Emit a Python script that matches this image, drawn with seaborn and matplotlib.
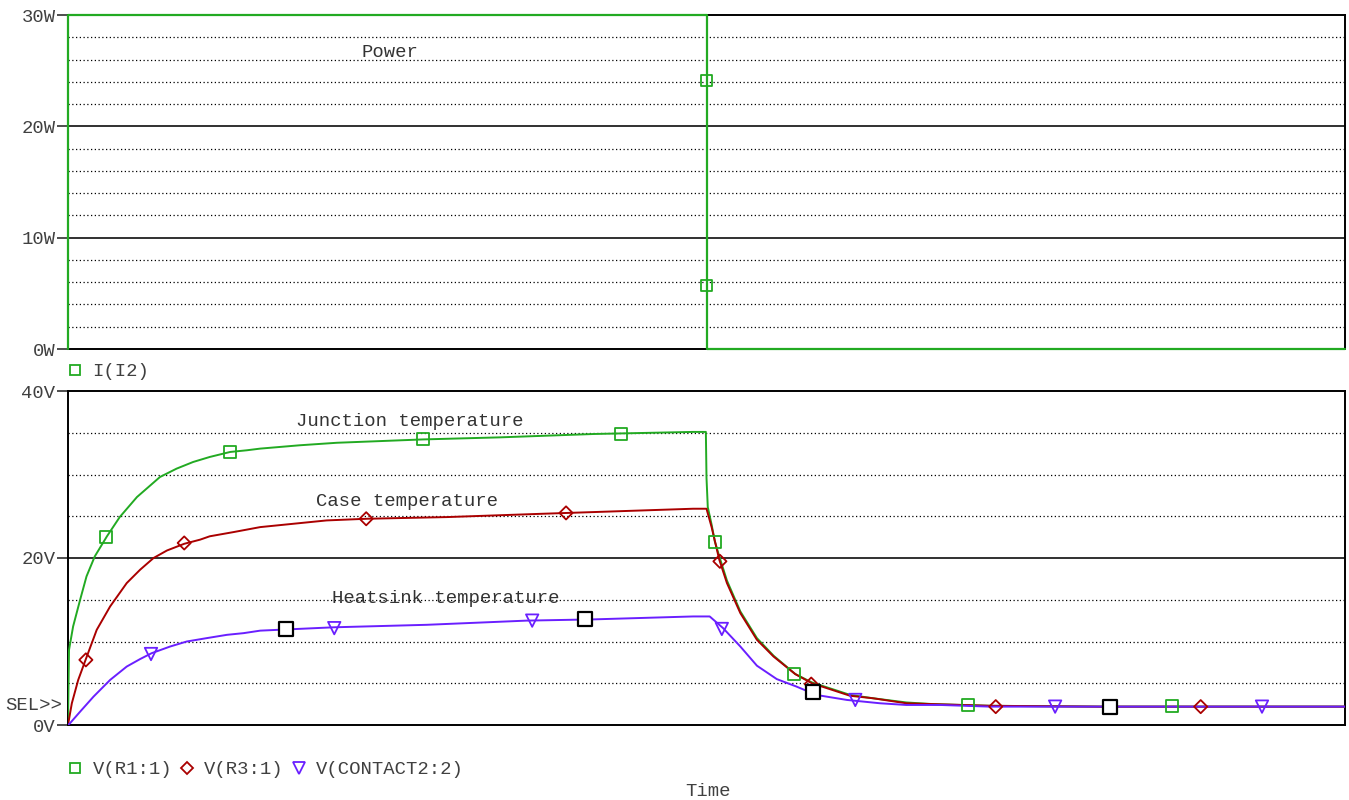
import numpy as np
import pandas as pd
import matplotlib
matplotlib.use("Agg")
import matplotlib.pyplot as plt
from matplotlib.lines import Line2D
import seaborn as sns

# ---------------- data (time in arbitrary units, 0..2) ----------------
power_t = [0.0, 0.0, 1.0, 1.0, 2.0]
power_w = [0.0, 30.0, 30.0, 0.0, 0.0]
power_mk_t = [1.0, 1.0]
power_mk_w = [24.1, 5.7]

junc_t = [0.0, 0.001, 0.0016, 0.008, 0.019, 0.029, 0.042, 0.061, 0.081, 0.108, 0.144,
          0.170, 0.196, 0.222, 0.254, 0.280, 0.301, 0.363, 0.421, 0.556, 0.677, 0.823,
          0.979, 0.999, 1.000, 1.002,
          1.008, 1.013, 1.020, 1.032, 1.053, 1.079, 1.105, 1.139, 1.165, 1.225, 1.261,
          1.313, 1.355, 1.444, 1.616, 2.0]
junc_v = [0.0, 6.0, 9.0, 11.8, 15.0, 17.8, 20.2, 22.6, 24.9, 27.3, 29.7,
          30.7, 31.5, 32.1, 32.7, 32.9, 33.1, 33.5, 33.8, 34.2, 34.45, 34.85,
          35.1, 35.1, 29.6, 26.1,
          24.0, 22.0, 20.2, 17.3, 13.6, 10.4, 8.3, 6.1, 5.1, 3.6, 3.2,
          2.7, 2.5, 2.3, 2.2, 2.2]

case_t = [0.0, 0.006, 0.016, 0.028, 0.045, 0.066, 0.092, 0.113, 0.134, 0.155, 0.182,
          0.207, 0.222, 0.259, 0.301,
          0.405, 0.468, 0.593, 0.744, 0.823, 0.979, 1.000, 1.008, 1.020, 1.032, 1.053,
          1.079, 1.105, 1.139, 1.165, 1.225, 1.261, 1.313, 1.355, 1.444, 1.616, 2.0]
case_v = [0.0, 2.6, 5.4, 7.9, 11.4, 14.2, 17.0, 18.6, 20.0, 20.9, 21.7,
          22.2, 22.6, 23.1, 23.7,
          24.5, 24.7, 24.9, 25.3, 25.5, 25.9, 25.9, 23.7, 19.8, 17.0, 13.4,
          10.2, 8.2, 6.1, 5.0, 3.5, 3.2, 2.6, 2.5, 2.3, 2.2, 2.2]

sink_t = [0.0, 0.003, 0.019, 0.040, 0.066, 0.079, 0.092, 0.113, 0.131, 0.160, 0.186,
          0.217, 0.249, 0.275, 0.301, 0.416,
          0.562, 0.718, 0.823, 0.979, 1.005, 1.026, 1.053, 1.079, 1.110, 1.141, 1.172,
          1.220, 1.272, 1.313, 1.366, 1.444, 2.0]
sink_v = [0.0, 0.2, 1.6, 3.4, 5.4, 6.2, 7.0, 7.9, 8.6, 9.4, 10.0,
          10.4, 10.8, 11.0, 11.3, 11.7,
          12.0, 12.5, 12.65, 13.0, 13.0, 11.6, 9.4, 7.1, 5.5, 4.6, 3.6,
          3.0, 2.6, 2.4, 2.4, 2.2, 2.2]

junc_mk_t = [0.060, 0.254, 0.556, 0.866, 1.013, 1.137, 1.410, 1.729]
junc_mk_v = [22.5, 32.7, 34.25, 34.85, 21.9, 6.1, 2.4, 2.3]
case_mk_t = [0.028, 0.182, 0.467, 0.780, 1.021, 1.164, 1.453, 1.774]
case_mk_v = [7.8, 21.8, 24.7, 25.4, 19.6, 4.9, 2.2, 2.2]
sink_mk_t = [0.130, 0.417, 0.727, 1.024, 1.233, 1.546, 1.870]
sink_mk_v = [8.5, 11.6, 12.5, 11.5, 3.0, 2.2, 2.2]
sel_mk_t = [0.341, 0.810, 1.167, 1.632]
sel_mk_v = [11.5, 12.7, 4.0, 2.2]

top_ticks = [0, 10, 20, 30]
top_ticklabels = ["0W", "10W", "20W", "30W"]
bot_ticks = [0, 20, 40]
bot_ticklabels = ["0V", "20V", "40V"]

GREEN = "#22aa22"
RED = "#aa0000"
BLUE = "#6a1fff"
TXT = "#404040"

# ---------------- style ----------------
sns.set_style("white")
plt.rcParams["font.family"] = ["Liberation Mono", "DejaVu Sans Mono"]
plt.rcParams["font.size"] = 13.6

fig = plt.figure(figsize=(13.49, 8.0), dpi=100)
ax1 = fig.add_axes([68/1349, 1-349/800, (1345-68)/1349, 334/800])
ax2 = fig.add_axes([68/1349, 1-725/800, (1345-68)/1349, 334/800])


def style_axes(ax, ymax, major, minor, ticks, labels):
    ax.set_xlim(0, 2.0)
    ax.set_ylim(0, ymax)
    for v in np.arange(minor, ymax, minor):
        if v % major == 0:
            ax.axhline(v, color="#303030", lw=1.4, zorder=1)
        else:
            ax.axhline(v, color="black", lw=0.9, ls=(0, (1, 2)), zorder=1)
    ax.set_yticks(ticks)
    ax.set_yticklabels(labels, color=TXT)
    ax.tick_params(axis="y", length=8, width=1.2, color="#303030", pad=1, left=True)
    ax.set_xticks([])
    ax.set_xlabel("")
    ax.set_ylabel("")
    for s in ax.spines.values():
        s.set_visible(True)
        s.set_color("black")
        s.set_linewidth(1.4)


style_axes(ax1, 30, 10, 2, top_ticks, top_ticklabels)
style_axes(ax2, 40, 20, 5, bot_ticks, bot_ticklabels)

# ---------------- top plot: power ----------------
dfp = pd.DataFrame({"t": power_t, "w": power_w})
sns.lineplot(data=dfp, x="t", y="w", sort=False, estimator=None, color=GREEN,
             lw=1.6, ax=ax1, zorder=5, clip_on=False)
sns.scatterplot(x=power_mk_t, y=power_mk_w, marker="s", s=70, facecolor="none",
                edgecolor=GREEN, linewidth=1.3, ax=ax1, zorder=6)
ax1.text(0.459, 26.6, "Power", color="#333333", va="center", ha="left")
ax1.set_xlabel("")
ax1.set_ylabel("")

# ---------------- bottom plot: temperatures ----------------
for tt, vv, col in [(junc_t, junc_v, GREEN), (case_t, case_v, RED), (sink_t, sink_v, BLUE)]:
    d = pd.DataFrame({"t": tt, "v": vv})
    sns.lineplot(data=d, x="t", y="v", sort=False, estimator=None, color=col,
                 lw=1.4, ax=ax2, zorder=5)

sns.scatterplot(x=junc_mk_t, y=junc_mk_v, marker="s", s=70, facecolor="none",
                edgecolor=GREEN, linewidth=1.3, ax=ax2, zorder=6)
sns.scatterplot(x=case_mk_t, y=case_mk_v, marker="D", s=45, facecolor="none",
                edgecolor=RED, linewidth=1.3, ax=ax2, zorder=6)
sns.scatterplot(x=sink_mk_t, y=sink_mk_v, marker="v", s=80, facecolor="none",
                edgecolor=BLUE, linewidth=1.3, ax=ax2, zorder=6)
sns.scatterplot(x=sel_mk_t, y=sel_mk_v, marker="s", s=110, facecolor="white",
                edgecolor="black", linewidth=1.6, ax=ax2, zorder=7)

ax2.text(0.357, 36.4, "Junction temperature", color="#333333", va="center", ha="left")
ax2.text(0.388, 26.8, "Case temperature", color="#333333", va="center", ha="left")
ax2.text(0.413, 15.1, "Heatsink temperature", color="#333333", va="center", ha="left")
ax2.set_xlabel("")
ax2.set_ylabel("")

# ---------------- legends and labels ----------------
h_top = [Line2D([], [], ls="none", marker="s", ms=7, mfc="none", mec=GREEN, mew=1.3)]
leg1 = ax1.legend(h_top, ["I(I2)"], loc="upper left", bbox_to_anchor=(66/1349, 1-363/800),
                  bbox_transform=fig.transFigure, frameon=False, handlelength=1.0,
                  handletextpad=0.4, borderaxespad=0, borderpad=0)
for t in leg1.get_texts():
    t.set_color(TXT)

h_bot = [Line2D([], [], ls="none", marker="s", ms=7, mfc="none", mec=GREEN, mew=1.3),
         Line2D([], [], ls="none", marker="D", ms=6, mfc="none", mec=RED, mew=1.3),
         Line2D([], [], ls="none", marker="v", ms=8, mfc="none", mec=BLUE, mew=1.3)]
leg2 = ax2.legend(h_bot, ["V(R1:1)", "V(R3:1)", "V(CONTACT2:2)"], loc="upper left",
                  bbox_to_anchor=(66/1349, 1-761/800), bbox_transform=fig.transFigure,
                  frameon=False, ncol=3, handlelength=1.0, handletextpad=0.4,
                  columnspacing=0.3, borderaxespad=0, borderpad=0)
for t in leg2.get_texts():
    t.set_color(TXT)

fig.text(708/1349, 1-791/800, "Time", ha="center", va="center", color=TXT)
fig.text(5/1349, 1-705/800, "SEL>>", ha="left", va="center", color=TXT)

fig.savefig("out.png", dpi=100)
